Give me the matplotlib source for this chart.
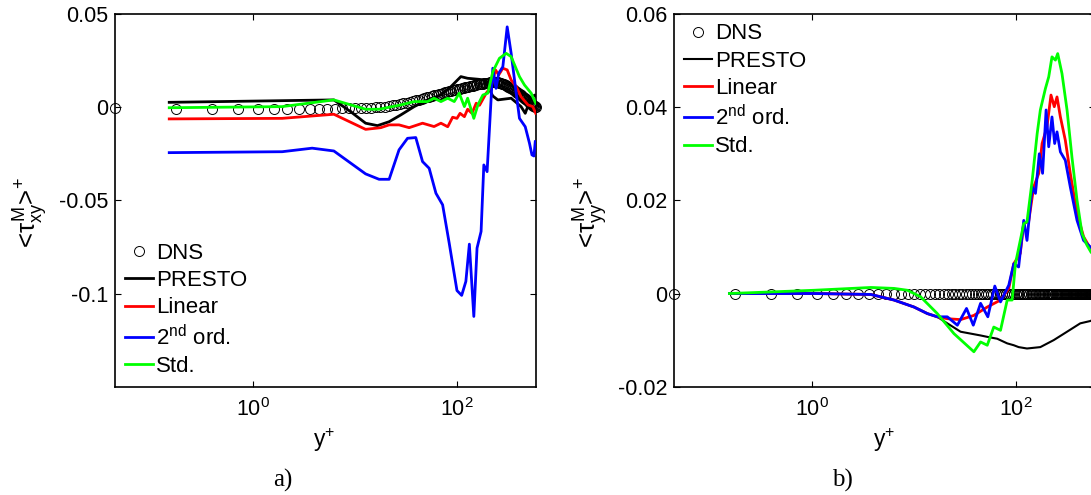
import matplotlib
matplotlib.use('Agg')
import matplotlib.pyplot as plt

plt.rcParams['font.family'] = ['Liberation Sans', 'DejaVu Sans']
plt.rcParams['mathtext.fontset'] = 'custom'
plt.rcParams['mathtext.rm'] = 'Liberation Sans'
plt.rcParams['mathtext.it'] = 'Liberation Sans'
plt.rcParams['mathtext.bf'] = 'Liberation Sans:bold'
plt.rcParams['axes.unicode_minus'] = False

# ---------------- data ----------------
dns_yplus = [
    0.0444, 0.1777, 0.3998, 0.7107, 1.110, 1.599, 2.176, 2.841, 3.595, 4.437,
    5.368, 6.386, 7.492, 8.686, 9.968, 11.34, 12.79, 14.34, 15.97, 17.68,
    19.48, 21.37, 23.35, 25.41, 27.55, 29.78, 32.09, 34.49, 36.97, 39.53,
    42.18, 44.91, 47.72, 50.62, 53.59, 56.65, 59.78, 63.00, 66.29, 69.67,
    73.12, 76.65, 80.26, 83.94, 87.70, 91.54, 95.45, 99.43, 103.5, 107.6,
    111.8, 116.1, 120.5, 124.9, 129.4, 133.9, 138.6, 143.2, 148.0, 152.8,
    157.7, 162.7, 167.7, 172.8, 178.0, 183.2, 188.4, 193.8, 199.2, 204.6,
    210.1, 215.7, 221.3, 227.0, 232.7, 238.5, 244.4, 250.3, 256.2, 262.2,
    268.3, 274.4, 280.5, 286.7, 292.9, 299.2, 305.5, 311.9, 318.3, 324.7,
    331.2, 337.7, 344.3, 350.9, 357.5, 364.2, 370.9, 377.7, 384.4, 391.2,
    398.1, 404.9, 411.8, 418.7, 425.7, 432.6, 439.6, 446.6, 453.7, 460.7,
    467.8, 474.9, 482.0, 489.1, 496.3, 503.4, 510.6, 517.8, 525.0, 532.2,
    539.4, 546.6, 553.8, 561.1, 568.3, 575.5, 582.8, 590.0]

dns_txy = [
    -0.0005, -0.0010, -0.0010, -0.0010, -0.0010, -0.0010, -0.0010, -0.0010, -0.0010, -0.0010,
    -0.0009, -0.0008, -0.0007, -0.0006, -0.0005, -0.0004, -0.0003, -0.0002, 0.0000, 0.0002,
    0.0003, 0.0006, 0.0009, 0.0013, 0.0017, 0.0021, 0.0025, 0.0029, 0.0033, 0.0037,
    0.0041, 0.0045, 0.0049, 0.0053, 0.0057, 0.0061, 0.0064, 0.0067, 0.0070, 0.0073,
    0.0076, 0.0079, 0.0082, 0.0085, 0.0088, 0.0090, 0.0093, 0.0095, 0.0097, 0.0100,
    0.0102, 0.0104, 0.0106, 0.0108, 0.0110, 0.0112, 0.0114, 0.0116, 0.0118, 0.0120,
    0.0122, 0.0123, 0.0125, 0.0126, 0.0127, 0.0128, 0.0129, 0.0130, 0.0131, 0.0132,
    0.0133, 0.0134, 0.0134, 0.0135, 0.0135, 0.0135, 0.0134, 0.0133, 0.0132, 0.0130,
    0.0128, 0.0126, 0.0124, 0.0122, 0.0120, 0.0118, 0.0116, 0.0113, 0.0110, 0.0108,
    0.0105, 0.0102, 0.0099, 0.0096, 0.0093, 0.0090, 0.0087, 0.0084, 0.0081, 0.0078,
    0.0075, 0.0072, 0.0069, 0.0066, 0.0063, 0.0060, 0.0057, 0.0054, 0.0051, 0.0048,
    0.0045, 0.0042, 0.0039, 0.0036, 0.0033, 0.0030, 0.0027, 0.0024, 0.0021, 0.0018,
    0.0015, 0.0012, 0.0010, 0.0008, 0.0006, 0.0004, 0.0002, 0.0000]

dns_tyy = [
    0, 0, 0, 0, 0, 0, 0, 0, 0, 0, 0, 0, 0, 0, 0, 0, 0, 0, 0, 0,
    0, 0, 0, 0, 0, 0, 0, 0, 0, 0, 0, 0, 0, 0, 0, 0, 0, 0, 0, 0,
    0, 0, 0, 0, 0, 0, 0, 0, 0, 0, 0, 0, 0, 0, 0, 0, 0, 0, 0, 0,
    0, 0, 0, 0, 0, 0, 0, 0, 0, 0, 0, 0, 0, 0, 0, 0, 0, 0, 0, 0,
    0, 0, 0, 0, 0, 0, 0, 0, 0, 0, 0, 0, 0, 0, 0, 0, 0, 0, 0, 0,
    0, 0, 0, 0, 0, 0, 0, 0, 0, 0, 0, 0, 0, 0, 0, 0, 0, 0, 0, 0,
    0, 0, 0, 0, 0, 0, 0, 0]

# panel a) <tau_xy^M>+
presto_xy_x = [0.151, 6.20, 9.05, 12.7, 16.6, 21.6, 28.0, 38.0, 51.3, 69.5, 87.0, 109, 127,
               160, 186, 205, 224, 251, 339, 424, 466, 513, 575, 590]
presto_xy_y = [0.0026, 0.0039, -0.0024, -0.0086, -0.0099, -0.0078, -0.0042, 0.0003, 0.0039,
               0.0065, 0.0110, 0.0164, 0.0155, 0.0150, 0.0146, 0.0100, 0.0060, 0.0039, 0.0048,
               0.0003, -0.0033, 0.0030, 0.0065, 0.0060]

linear_xy_x = [0.151, 1.93, 6.20, 12.7, 17.9, 21.6, 27.0, 33.9, 45.9, 59.5, 69.5, 81.0, 90.5,
               99.8, 107, 118, 127, 140, 154, 166, 193, 216, 238, 256, 281, 310, 339, 380,
               424, 496, 553, 590]
linear_xy_y = [-0.0063, -0.0060, -0.0038, -0.0119, -0.0110, -0.0095, -0.0095, -0.0110, -0.0086,
               -0.0104, -0.0086, -0.0105, -0.0054, -0.0060, -0.0033, -0.0051, -0.0011, -0.0033,
               0.0021, 0.0010, 0.0075, 0.0110, 0.0200, 0.0173, 0.0209, 0.0200, 0.0146, 0.0110,
               0.0056, 0.0012, 0.0003, -0.0033]

second_xy_x = [0.151, 1.93, 3.80, 6.20, 12.7, 17.2, 21.6, 27.0, 32.7, 39.4, 45.9, 53.3, 62.1,
               72.2, 83.8, 99.8, 111, 122, 132, 146, 157, 172, 183, 197, 224, 241, 256, 281,
               310, 339, 380, 409, 466, 513, 542, 567, 584]
second_xy_y = [-0.0244, -0.0239, -0.0220, -0.0235, -0.0358, -0.0387, -0.0387, -0.0229, -0.0167,
               -0.0163, -0.0292, -0.0328, -0.0462, -0.0524, -0.0730, -0.0984, -0.1010, -0.0935,
               -0.0735, -0.1123, -0.0756, -0.0667, -0.0310, -0.0346, 0.0209, 0.0101, 0.0182,
               0.0217, 0.0431, 0.0289, 0.0075, -0.0060, -0.0105, -0.0194, -0.0256, -0.0262,
               -0.0185]

std_xy_x = [0.151, 1.93, 6.20, 12.7, 17.2, 28.0, 38.0, 51.3, 59.5, 69.5, 81.0, 93.9, 105, 118,
            127, 146, 160, 179, 200, 224, 260, 303, 339, 409, 458, 533, 590]
std_xy_y = [-0.0003, 0.0003, 0.0039, -0.0011, -0.0011, 0.0012, 0.0030, 0.0030, 0.0048, 0.0030,
            0.0048, 0.0030, 0.0075, 0.0003, 0.0048, -0.0060, 0.0012, 0.0065, 0.0075, 0.0190,
            0.0262, 0.0289, 0.0271, 0.0164, 0.0119, 0.0075, 0.0021]

# panel b) <tau_yy^M>+
presto_yy_x = [0.155, 1.05, 3.77, 6.37, 10.0, 13.5, 16.9, 21.2, 28.6, 44.9, 52.2, 65.3, 81.9,
               95.0, 106, 128, 173, 234, 316, 426, 534, 590]
presto_yy_y = [0.0, 0.0, -0.0002, -0.0014, -0.0029, -0.0043, -0.0050, -0.0064, -0.0082, -0.0090,
               -0.0093, -0.0097, -0.0107, -0.0111, -0.0115, -0.0118, -0.0115, -0.0100, -0.0082,
               -0.0064, -0.0059, -0.0055]

linear_yy_x = [0.155, 1.05, 3.77, 6.37, 10.0, 13.5, 16.9, 21.2, 28.6, 38.6, 52.2, 70.4, 84.9,
               95.0, 110, 119, 133, 149, 167, 180, 201, 220, 237, 252, 272, 304, 340, 396,
               459, 534, 590]
linear_yy_y = [0.0, 0.0, -0.0002, -0.0014, -0.0029, -0.0043, -0.0050, -0.0054, -0.0056, -0.0047,
               -0.0029, -0.0014, 0.0011, 0.0064, 0.0086, 0.0150, 0.0155, 0.0229, 0.0258, 0.0322,
               0.0358, 0.0426, 0.0401, 0.0422, 0.0379, 0.0329, 0.0258, 0.0172, 0.0122, 0.0097,
               0.0080]

second_yy_x = [0.155, 1.05, 3.77, 6.37, 10.0, 13.5, 16.9, 21.2, 26.6, 32.7, 38.1, 44.9, 52.9,
               61.9, 70.4, 84.9, 95.0, 106, 119, 128, 144, 155, 169, 182, 197, 209, 225, 239,
               252, 272, 304, 340, 396, 459, 534, 590]
second_yy_y = [0.0, 0.0, -0.0002, -0.0014, -0.0029, -0.0043, -0.0050, -0.0050, -0.0068, -0.0032,
               -0.0068, -0.0021, -0.0050, 0.0016, -0.0018, 0.0018, 0.0064, 0.0057, 0.0157,
               0.0114, 0.0229, 0.0215, 0.0300, 0.0258, 0.0394, 0.0315, 0.0379, 0.0322, 0.0347,
               0.0304, 0.0286, 0.0229, 0.0157, 0.0114, 0.0100, 0.0090]

std_yy_x = [0.155, 1.05, 3.77, 6.37, 8.62, 11.6, 16.9, 24.6, 38.6, 44.9, 52.2, 60.5, 70.4, 81.9,
            91.6, 98.6, 119, 128, 144, 161, 173, 194, 209, 225, 243, 256, 282, 316, 353, 396,
            443, 495, 542, 590]
std_yy_y = [0.0, 0.0007, 0.0013, 0.0011, 0.0007, -0.0007, -0.0043, -0.0086, -0.0125, -0.0104,
            -0.0111, -0.0072, -0.0079, -0.0014, -0.0014, 0.0064, 0.0150, 0.0154, 0.0243, 0.0343,
            0.0394, 0.0440, 0.0465, 0.0508, 0.0501, 0.0515, 0.0472, 0.0394, 0.0293, 0.0200,
            0.0129, 0.0104, 0.0089, 0.0080]

series_labels = ['DNS', 'PRESTO', 'Linear', r'2$^{\mathrm{nd}}$ ord.', 'Std.']
series_colors = ['black', 'black', '#ff0000', '#0000ff', '#00ff00']

xlim = (0.0444, 590.0)
xticks = [1, 100]
xticklabels = [r'10$^{0}$', r'10$^{2}$']
yticks_a = [-0.1, -0.05, 0, 0.05]
yticklabels_a = ['-0.1', '-0.05', '0', '0.05']
ylim_a = (-0.15, 0.05)
yticks_b = [-0.02, 0, 0.02, 0.04, 0.06]
yticklabels_b = ['-0.02', '0', '0.02', '0.04', '0.06']
ylim_b = (-0.02, 0.06)

# ---------------- figure ----------------
W, H = 1091, 495
fig = plt.figure(figsize=(W / 100, H / 100), dpi=100)

ax_w = 420.7 / W
ax_h = 372.7 / H
ax_b = (H - 386.7) / H
axA = fig.add_axes([115 / W, ax_b, ax_w, ax_h])
axB = fig.add_axes([674 / W, ax_b, ax_w, ax_h])

FS = 15.5
LW = 2.0


def style(ax, yticks, yticklabels, ylim):
    ax.set_xscale('log')
    ax.set_xlim(*xlim)
    ax.set_ylim(*ylim)
    ax.set_xticks(xticks)
    ax.set_xticklabels(xticklabels)
    ax.xaxis.set_minor_locator(matplotlib.ticker.NullLocator())
    ax.set_yticks(yticks)
    ax.set_yticklabels(yticklabels)
    ax.tick_params(direction='in', length=4, width=0.8, top=True, right=True,
                   labelsize=FS, pad=5)
    ax.tick_params(axis='x', pad=8)
    for s in ax.spines.values():
        s.set_linewidth(1.2)


def draw(ax, dns_y, curves, lw_presto):
    ax.plot(dns_yplus, dns_y, linestyle='none', marker='o', markersize=7.2,
            markerfacecolor='none', markeredgecolor='black', markeredgewidth=0.7,
            label=series_labels[0], clip_on=False, zorder=2)
    for i, (xs, ys) in enumerate(curves):
        ax.plot(xs, ys, color=series_colors[i + 1],
                lw=(lw_presto if i == 0 else LW), label=series_labels[i + 1], zorder=3 + i)


draw(axA, dns_txy, [(presto_xy_x, presto_xy_y), (linear_xy_x, linear_xy_y),
                    (second_xy_x, second_xy_y), (std_xy_x, std_xy_y)], 2.0)
draw(axB, dns_tyy, [(presto_yy_x, presto_yy_y), (linear_yy_x, linear_yy_y),
                    (second_yy_x, second_yy_y), (std_yy_x, std_yy_y)], 1.5)

style(axA, yticks_a, yticklabels_a, ylim_a)
style(axB, yticks_b, yticklabels_b, ylim_b)

leg_kw = dict(frameon=False, fontsize=16, handlelength=1.25, handletextpad=0.15,
              labelspacing=0.28, borderpad=0, borderaxespad=0)
axA.legend(loc='center left', bbox_to_anchor=(0.024, 0.206), **leg_kw)
axB.legend(loc='center left', bbox_to_anchor=(0.024, 0.795), **leg_kw)

# axis labels (placed in pixel coordinates)
def px(x, y):
    return x / W, 1 - y / H

fig.text(*px(31, 213), r'<$\tau^{M}_{xy}$>$^{+}$', rotation=90, ha='center', va='center',
         fontsize=18.5)
fig.text(*px(591, 213), r'<$\tau^{M}_{yy}$>$^{+}$', rotation=90, ha='center', va='center',
         fontsize=18.5)
fig.text(*px(324, 440), r'y$^{+}$', ha='center', va='center', fontsize=16.5)
fig.text(*px(884, 440), r'y$^{+}$', ha='center', va='center', fontsize=16.5)
fig.text(*px(283, 480), 'a)', ha='center', va='center', fontsize=18,
         family=['Liberation Serif', 'DejaVu Serif'])
fig.text(*px(842, 480), 'b)', ha='center', va='center', fontsize=18,
         family=['Liberation Serif', 'DejaVu Serif'])

fig.savefig('out.png', dpi=100)
